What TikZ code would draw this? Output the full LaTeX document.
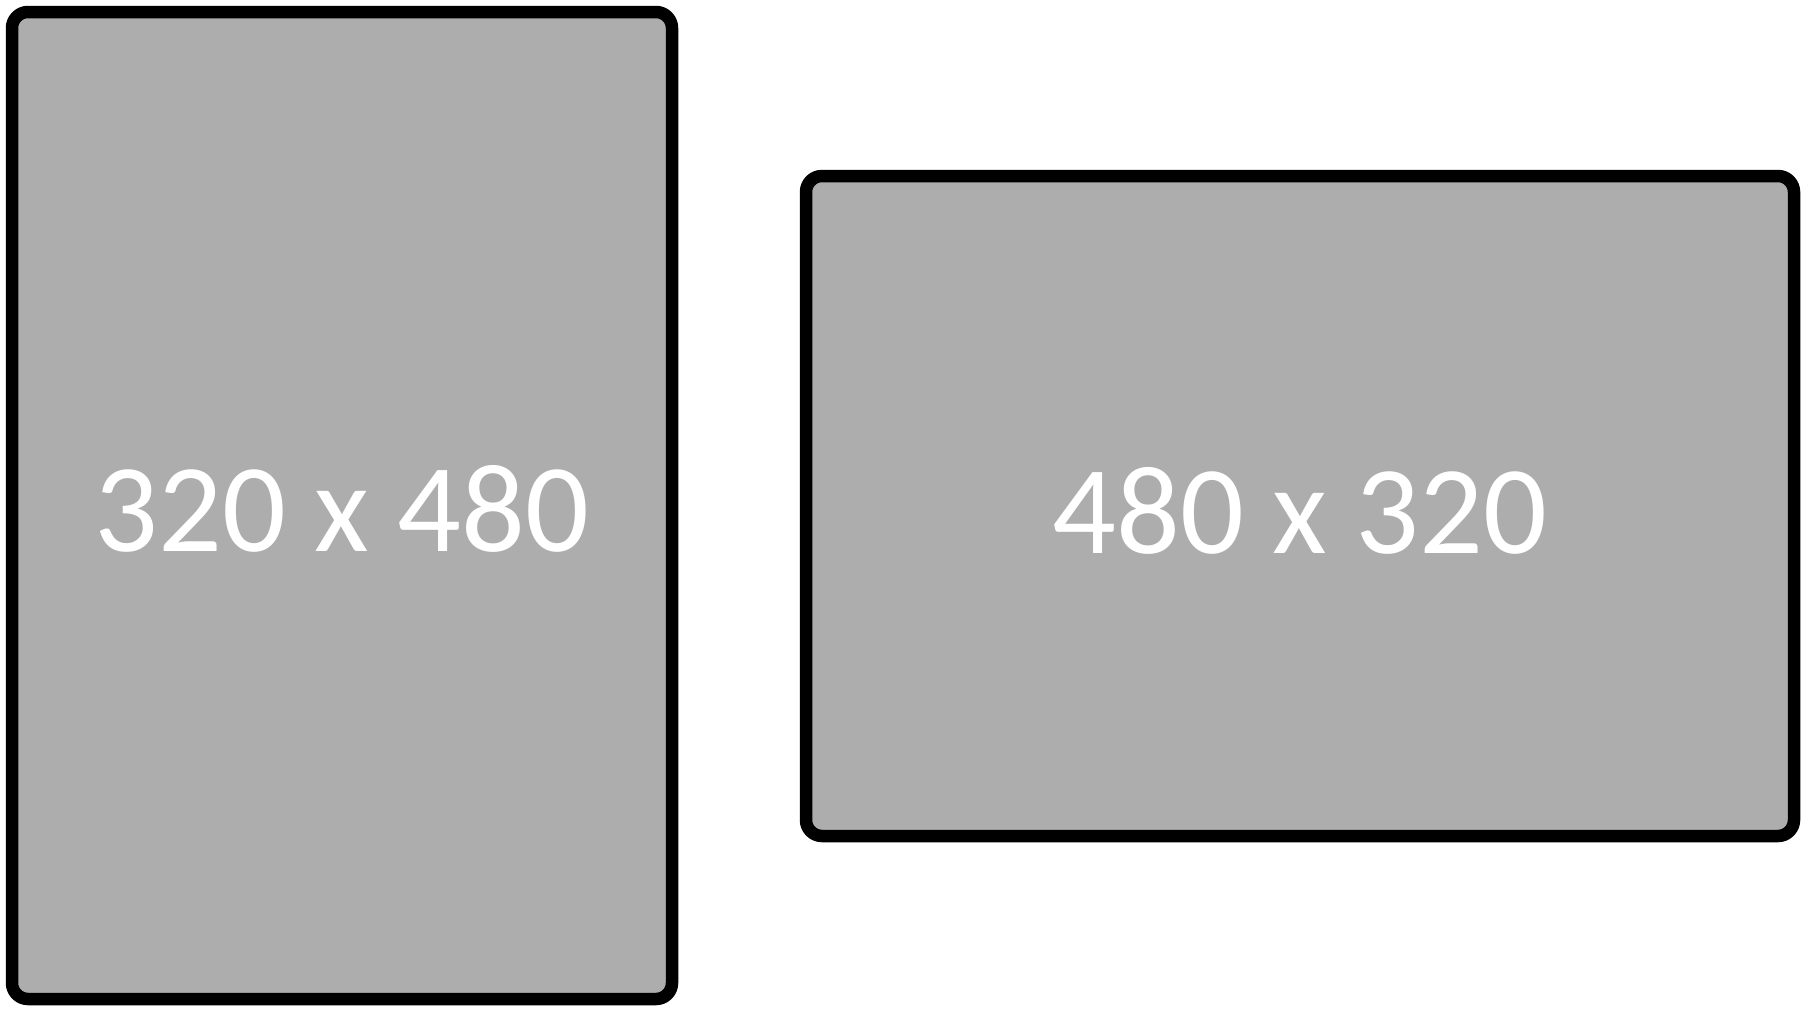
\documentclass[tikz,border=0pt]{standalone}
\usepackage{fontspec}
\setmainfont{Carlito}
\definecolor{screen}{HTML}{ADADAD}
\definecolor{frame}{HTML}{000000}

\begin{document}
\begin{tikzpicture}[x=1pt,y=-1pt]
  \tikzset{
    device/.style={draw=frame,fill=screen,line width=12.5pt,line join=round,rounded corners=16pt},
    dims/.style={text=white,font=\fontsize{126}{140}\selectfont}
  }
  \useasboundingbox (0,0) rectangle (1806,1012);

  % portrait screen
  \draw[device] (12,12) rectangle (672,999);
  \node[dims] (portrait) at (342,509) {320 x 480};

  % landscape screen
  \draw[device] (806,176) rectangle (1794,836);
  \node[dims] (landscape) at (1300,511) {480 x 320};
\end{tikzpicture}
\end{document}
